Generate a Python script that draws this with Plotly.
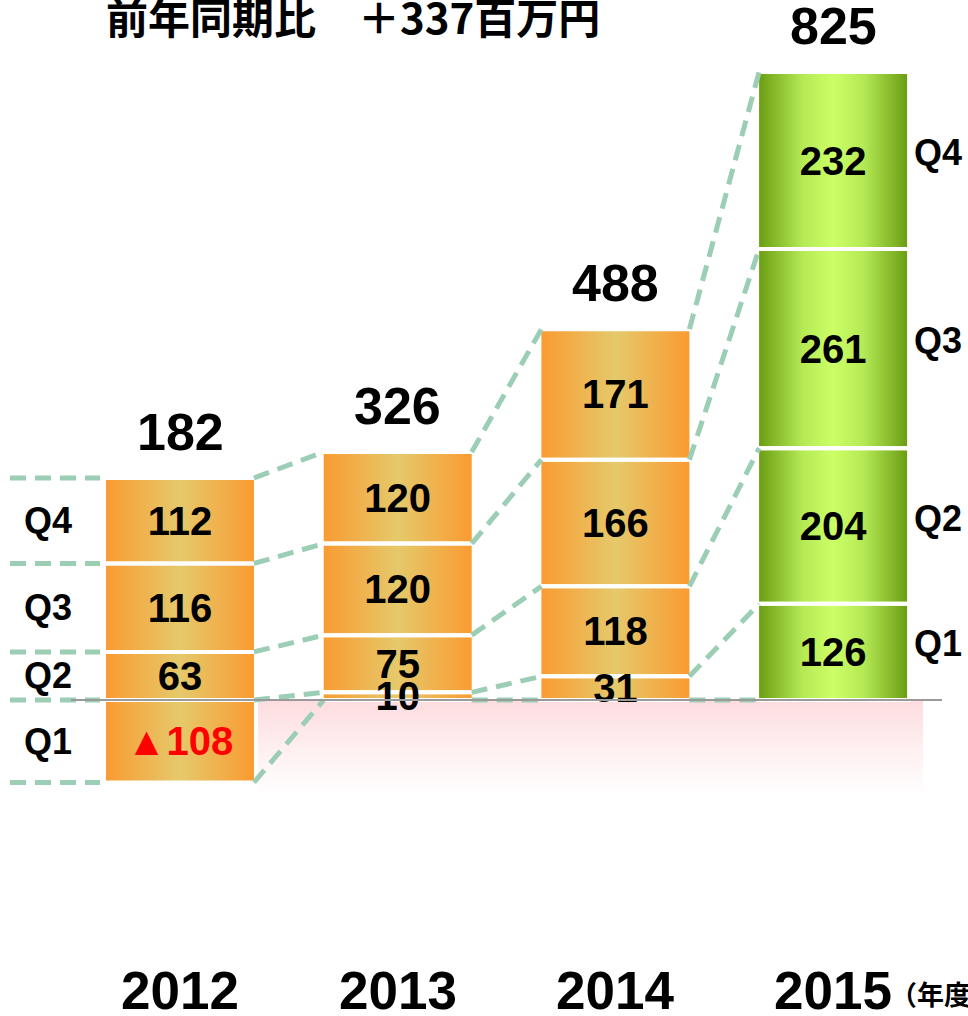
import plotly.graph_objects as go

# ---------------- data ----------------
years = ["2012", "2013", "2014", "2015"]
q1 = [-108, 10, 31, 126]
q2 = [63, 75, 118, 204]
q3 = [116, 120, 166, 261]
q4 = [112, 120, 171, 232]
totals = [182, 326, 488, 825]
q1_text = ["▲108", "10", "31", "126"]
quarter_names = ["Q1", "Q2", "Q3", "Q4"]
title_text = "前年同期比　＋337百万円"
unit_text = "（年度）"

# ---------------- layout constants ----------------
W, H = 968, 1016
X0_PX, PX_PER_X = 180.0, 217.7
Y0_PX, PX_PER_Y = 700.0, 0.763
x_range = [-X0_PX / PX_PER_X, (W - X0_PX) / PX_PER_X]
y_range = [-(H - Y0_PX) / PX_PER_Y, Y0_PX / PX_PER_Y]
BAR_W = 152 / PX_PER_X          # polygon width (white outline eats 2px each side)
VIS_HALF = 74 / PX_PER_X        # visible half width
LABEL_DROP = 4 / PX_PER_Y       # segment labels sit a few px below the middle


def px_x(p):
    """page x pixel -> data x"""
    return (p - X0_PX) / PX_PER_X


def px_px(p):
    """page x pixel -> paper x"""
    return p / W


def py_py(p):
    """page y pixel -> paper y"""
    return 1 - p / H


NUM_FONT = "Liberation Sans, Arial, sans-serif"
CJK_FONT = "Noto Sans CJK JP, sans-serif"
DASH_COLOR = "#9CCDB5"
ORANGE_SCALE = [[0, "#FA9A30"], [0.5, "#E5C96B"], [1, "#FA9A30"]]
GREEN_SCALE = [[0, "#689A10"], [0.3, "#B5EA55"], [0.5, "#CCFF66"],
               [0.7, "#B5EA55"], [1, "#689A10"]]

quarters = [q1, q2, q3, q4]
segments = []
for i in range(len(years)):
    pos, neg = 0, 0
    segs = []
    for q in quarters:
        v = q[i]
        if v < 0:
            segs.append((neg + v, neg))
            neg += v
        else:
            segs.append((pos, pos + v))
            pos += v
    segments.append(segs)

fig = go.Figure()

# pink fade area under baseline
fig.add_trace(go.Scatter(
    x=[px_x(258), px_x(923), px_x(923), px_x(258), px_x(258)],
    y=[0, 0, -125, -125, 0],
    mode="lines", fill="toself", line=dict(width=0),
    fillgradient=dict(type="vertical",
                      colorscale=[[0, "rgba(255,255,255,1)"], [0.5, "#FEEFF0"], [1, "#FDDCDF"]]),
    hoverinfo="skip", showlegend=False))

# bars (gradient filled polygons)
for i, segs in enumerate(segments):
    xs, ys = [], []
    for lo, hi in segs:
        l, r = i - BAR_W / 2, i + BAR_W / 2
        xs += [l, r, r, l, l, None]
        ys += [lo, lo, hi, hi, lo, None]
    fig.add_trace(go.Scatter(
        x=xs, y=ys, mode="lines", fill="toself",
        line=dict(color="white", width=4),
        fillgradient=dict(type="horizontal",
                          colorscale=GREEN_SCALE if i == 3 else ORANGE_SCALE),
        hoverinfo="skip", showlegend=False))


# connecting dashed lines
def bounds(segs):
    return [segs[0][0], segs[0][1], segs[1][1], segs[2][1], segs[3][1]]


lx, ly = [], []
for i in range(len(years) - 1):
    b0, b1 = bounds(segments[i]), bounds(segments[i + 1])
    for k in range(5):
        lx += [i + VIS_HALF, i + 1 - VIS_HALF, None]
        ly += [b0[k], b1[k], None]
# left guide dashes
for v in bounds(segments[0]):
    lx += [px_x(10), px_x(100), None]
    ly += [v, v, None]
fig.add_trace(go.Scatter(
    x=lx, y=ly, mode="lines",
    line=dict(color=DASH_COLOR, width=5, dash="16px,9px"),
    hoverinfo="skip", showlegend=False))

# segment labels
tx, ty, tt, tc = [], [], [], []
for i, segs in enumerate(segments):
    for k, (lo, hi) in enumerate(segs):
        tx.append(i)
        ty.append((lo + hi) / 2 - LABEL_DROP)
        val = quarters[k][i]
        tt.append(q1_text[i] if k == 0 else str(val))
        tc.append("#FF0000" if val < 0 else "#000000")
fig.add_trace(go.Scatter(
    x=tx, y=ty, text=tt, mode="text", textposition="middle center",
    textfont=dict(family=NUM_FONT, size=40, color=tc, weight="bold"),
    hoverinfo="skip", showlegend=False))

annotations = []
# left quarter labels (2012 segments)
for k, (lo, hi) in enumerate(segments[0]):
    annotations.append(dict(x=px_x(48), y=(lo + hi) / 2, text=quarter_names[k],
                            showarrow=False, xanchor="center", yanchor="middle",
                            font=dict(family=NUM_FONT, size=36, color="black", weight="bold")))
# right quarter labels (2015 segments)
for k, (lo, hi) in enumerate(segments[3]):
    annotations.append(dict(x=px_x(938), y=(lo + hi) / 2, yshift=8, text=quarter_names[k],
                            showarrow=False, xanchor="center", yanchor="middle",
                            font=dict(family=NUM_FONT, size=36, color="black", weight="bold")))
# totals above bars
for i, segs in enumerate(segments):
    top = segs[3][1]
    annotations.append(dict(x=i, y=top, yshift=46, text=str(totals[i]),
                            showarrow=False, xanchor="center", yanchor="middle",
                            font=dict(family=NUM_FONT, size=52, color="black", weight="bold")))
# year labels
for i, yr in enumerate(years):
    annotations.append(dict(x=i, xref="x", y=py_py(990), yref="paper", text=yr,
                            showarrow=False, xanchor="center", yanchor="middle",
                            font=dict(family=NUM_FONT, size=53, color="black", weight="bold")))
annotations.append(dict(x=px_px(888), xref="paper", y=py_py(993), yref="paper", text=unit_text,
                        showarrow=False, xanchor="left", yanchor="middle",
                        font=dict(family=CJK_FONT, size=27, color="black", weight="bold")))
# title
annotations.append(dict(x=px_px(104), xref="paper", y=py_py(16), yref="paper", text=title_text,
                        showarrow=False, xanchor="left", yanchor="middle",
                        font=dict(family=CJK_FONT, size=42, color="black", weight="bold")))

fig.update_layout(
    width=W, height=H,
    margin=dict(l=0, r=0, t=0, b=0),
    paper_bgcolor="white", plot_bgcolor="white",
    xaxis=dict(range=x_range, visible=False, fixedrange=True),
    yaxis=dict(range=y_range, visible=False, fixedrange=True),
    annotations=annotations,
    shapes=[dict(type="line", xref="x", yref="y", x0=px_x(71), x1=px_x(942), y0=0, y1=0,
                 line=dict(color="#9A9A9A", width=2), layer="above")],
    showlegend=False,
)

fig.write_html("out.html", config={"displayModeBar": False},
               post_script="document.body.style.margin='0';document.body.style.overflow='hidden';")
